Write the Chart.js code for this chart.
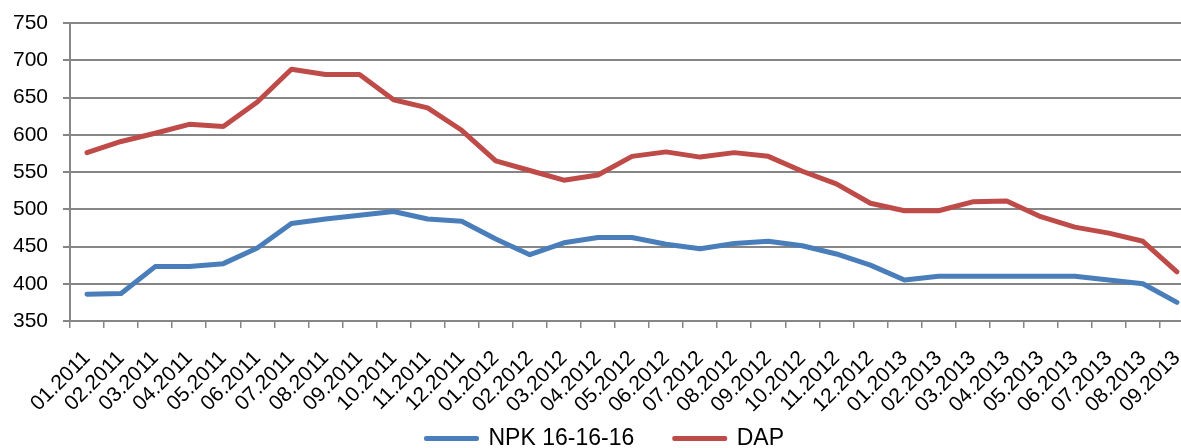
<!DOCTYPE html>
<html>
<head>
<meta charset="utf-8">
<script src="https://cdn.jsdelivr.net/npm/chart.js@4"></script>
<style>
  html, body { margin: 0; padding: 0; background: #fff; overflow: hidden; }
  /* the original chart is wider than the window; the right edge gets cut off */
  #wrap { position: relative; width: 1265px; height: 460px; }
</style>
</head>
<body>
<div id="wrap"><canvas id="priceChart"></canvas></div>
<script>
// Monthly categories (01.2011 - 09.2013)
const months = [
    '01.2011', '02.2011', '03.2011', '04.2011', '05.2011', '06.2011',
    '07.2011', '08.2011', '09.2011', '10.2011', '11.2011', '12.2011',
    '01.2012', '02.2012', '03.2012', '04.2012', '05.2012', '06.2012',
    '07.2012', '08.2012', '09.2012', '10.2012', '11.2012', '12.2012',
    '01.2013', '02.2013', '03.2013', '04.2013', '05.2013', '06.2013',
    '07.2013', '08.2013', '09.2013'
];

const npkPrices = [
    386, 387, 423, 423, 427, 448, 481, 487, 492, 497, 487, 484,
    460, 439, 455, 462, 462, 453, 447, 454, 457, 451, 440, 425,
    405, 410, 410, 410, 410, 410, 405, 400, 375
];

const dapPrices = [
    576, 591, 602, 614, 611, 644, 688, 681, 681, 647, 636, 606,
    565, 552, 539, 546, 571, 577, 570, 576, 571, 551, 534, 508,
    498, 498, 510, 511, 490, 476, 468, 457, 416
];

const yMin = 350;
const yMax = 750;
const yStep = 50;

const FONT = "'Liberation Sans', Arial, sans-serif";
const GRID = '#868686';

// axis labels hang outside their boxes (rotated months, wide y numbers),
// so open up the clip areas once the layout is done
const unclipLabels = {
    id: 'unclipLabels',
    afterLayout(chart) {
        chart.scales.x.bottom = chart.height;
        chart.scales.y.left = 0;
    }
};

const ctx = document.getElementById('priceChart').getContext('2d');

new Chart(ctx, {
    type: 'line',
    data: {
        labels: months,
        datasets: [
            {
                label: 'NPK 16-16-16',
                data: npkPrices,
                borderColor: '#4A7EBB',
                backgroundColor: '#4A7EBB',
                borderWidth: 5,
                borderCapStyle: 'round',
                borderJoinStyle: 'round',
                pointRadius: 0,
                tension: 0
            },
            {
                label: 'DAP',
                data: dapPrices,
                borderColor: '#BE4B48',
                backgroundColor: '#BE4B48',
                borderWidth: 5,
                borderCapStyle: 'round',
                borderJoinStyle: 'round',
                pointRadius: 0,
                tension: 0
            }
        ]
    },
    plugins: [unclipLabels],
    options: {
        responsive: true,
        maintainAspectRatio: false,
        animation: false,
        layout: { padding: { top: 23, left: 16, right: 71, bottom: 0 } },
        plugins: {
            tooltip: { enabled: false },
            legend: {
                position: 'bottom',
                labels: {
                    color: '#000',
                    font: { family: FONT, size: 23 },
                    boxWidth: 51,
                    boxHeight: 1,
                    padding: 40,
                    // thin line instead of a filled box
                    generateLabels(chart) {
                        const items = Chart.defaults.plugins.legend.labels.generateLabels(chart);
                        return items.map(it => Object.assign(it, { lineWidth: 4 }));
                    }
                }
            }
        },
        scales: {
            x: {
                offset: true,
                grid: {
                    drawOnChartArea: false,
                    drawTicks: true,
                    tickLength: 7,
                    color: GRID,
                    lineWidth: 1.5,
                    offset: true
                },
                border: { display: true, color: GRID, width: 2 },
                ticks: {
                    autoSkip: false,
                    minRotation: 45,
                    maxRotation: 45,
                    padding: 18,
                    color: '#000',
                    font: { family: FONT, size: 21 }
                },
                afterFit(scale) { scale.height = 66; }
            },
            y: {
                min: yMin,
                max: yMax,
                ticks: {
                    stepSize: yStep,
                    padding: 15,
                    color: '#000',
                    font: { family: FONT, size: 21, lineHeight: 0.7 }
                },
                grid: {
                    color: GRID,
                    lineWidth: 2,
                    tickLength: 7,
                    drawTicks: true
                },
                border: { display: true, color: GRID, width: 2 },
                afterFit(scale) { scale.width = 54; }
            }
        }
    }
});
</script>
</body>
</html>
